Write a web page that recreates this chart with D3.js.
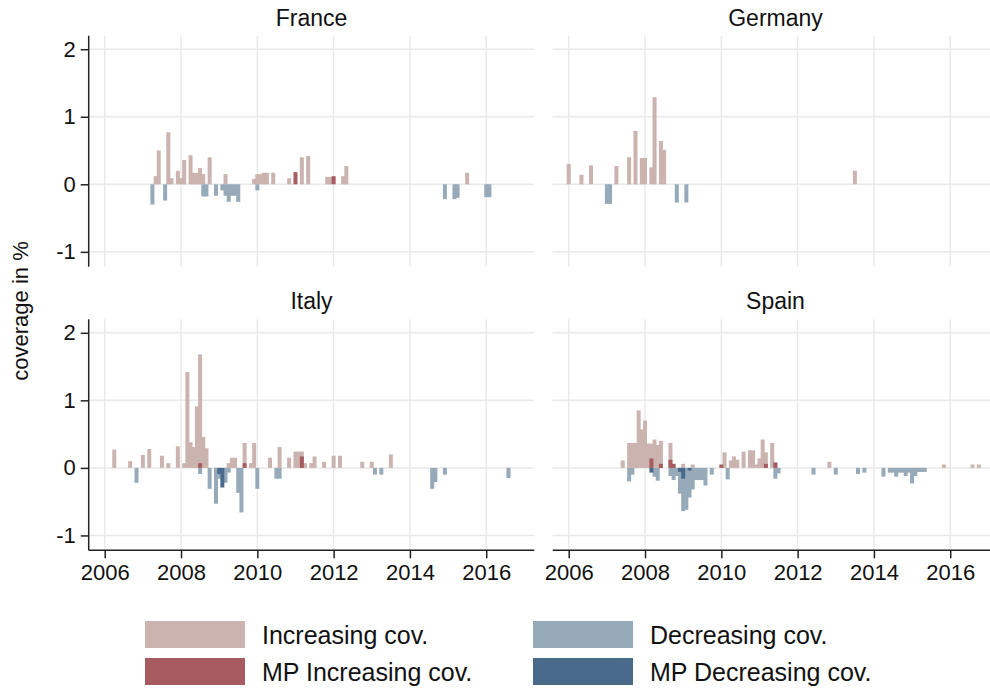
<!DOCTYPE html>
<html>
<head>
<meta charset="utf-8">
<script src="https://cdn.jsdelivr.net/npm/d3@7"></script>
<style>
  html, body { margin: 0; padding: 0; background: #fff; }
  svg { display: block; font-family: "Liberation Sans", Arial, Helvetica, sans-serif; }
</style>
</head>
<body>
<svg id="chart" width="990" height="693"></svg>
<script>
// Monthly changes in coverage (percentage points), by country.
const countries = ["France", "Germany", "Italy", "Spain"];

const franceInc = [["2007-05",0.12],["2007-06",0.50],["2007-09",0.77],["2007-10",0.09],["2007-12",0.20],
  ["2008-01",0.09],["2008-02",0.36],["2008-04",0.43],["2008-05",0.17],["2008-06",0.17],["2008-07",0.24],
  ["2008-08",0.15],["2008-10",0.40],["2009-03",0.15],["2009-12",0.08],["2010-01",0.15],["2010-02",0.15],
  ["2010-03",0.17],["2010-04",0.17],["2010-06",0.17],["2010-11",0.09],["2011-03",0.40],["2011-05",0.42],
  ["2011-11",0.11],["2011-12",0.11],["2012-04",0.12],["2012-05",0.27],["2015-07",0.17]];
const franceDec = [["2007-04",-0.30],["2007-08",-0.24],["2008-08",-0.18],["2008-09",-0.18],["2008-12",-0.17],
  ["2009-02",-0.09],["2009-03",-0.17],["2009-04",-0.26],["2009-05",-0.17],["2009-06",-0.17],["2009-07",-0.26],
  ["2010-01",-0.09],["2014-12",-0.22],["2015-03",-0.22],["2015-04",-0.20],["2016-01",-0.19],["2016-02",-0.19]];
const franceMpInc = [["2011-01",0.18],["2012-01",0.12]];
const franceMpDec = [];

const germanyInc = [["2006-01",0.30],["2006-05",0.14],["2006-08",0.28],["2007-04",0.27],["2007-08",0.40],
  ["2007-10",0.79],["2007-12",0.39],["2008-01",0.39],["2008-03",0.25],["2008-04",1.29],["2008-06",0.64],
  ["2008-07",0.51],["2013-07",0.20]];
const germanyDec = [["2007-01",-0.29],["2007-02",-0.29],["2008-11",-0.27],["2009-02",-0.27]];
const germanyMpInc = [];
const germanyMpDec = [];

const italyInc = [["2006-04",0.27],["2006-09",0.10],["2007-01",0.19],["2007-03",0.28],["2007-07",0.18],
  ["2007-09",0.07],["2007-12",0.32],["2008-02",0.07],["2008-03",1.42],["2008-04",0.38],["2008-05",0.31],
  ["2008-06",0.91],["2008-07",1.68],["2008-08",0.46],["2008-09",0.29],["2009-04",0.07],["2009-05",0.15],
  ["2009-06",0.15],["2009-09",0.37],["2009-11",0.07],["2009-12",0.37],["2010-05",0.15],["2010-08",0.31],
  ["2010-11",0.15],["2011-01",0.24],["2011-02",0.24],["2011-03",0.24],["2011-04",0.07],["2011-06",0.07],
  ["2011-07",0.17],["2011-10",0.09],["2012-01",0.18],["2012-03",0.18],["2012-10",0.09],["2013-01",0.09],
  ["2013-07",0.20]];
const italyDec = [["2006-11",-0.22],["2008-07",-0.09],["2008-10",-0.31],["2008-12",-0.53],["2009-01",-0.16],
  ["2009-03",-0.22],["2009-04",-0.07],["2009-07",-0.37],["2009-08",-0.66],["2010-01",-0.31],["2010-07",-0.16],
  ["2010-08",-0.16],["2013-02",-0.10],["2013-04",-0.10],["2014-08",-0.31],["2014-09",-0.21],["2014-12",-0.10],
  ["2016-08",-0.15]];
const italyMpInc = [["2008-07",0.07],["2009-09",0.07],["2011-03",0.17]];
const italyMpDec = [["2009-01",-0.09],["2009-02",-0.29]];

const spainInc = [["2007-06",0.11],["2007-08",0.37],["2007-09",0.37],["2007-10",0.37],["2007-11",0.85],
  ["2007-12",0.57],["2008-01",0.70],["2008-02",0.36],["2008-03",0.36],["2008-04",0.42],["2008-05",0.34],
  ["2008-06",0.40],["2008-09",0.37],["2009-01",0.06],["2009-04",0.05],["2010-02",0.23],["2010-04",0.11],
  ["2010-05",0.17],["2010-06",0.12],["2010-08",0.24],["2010-10",0.26],["2010-11",0.26],["2010-12",0.05],
  ["2011-01",0.14],["2011-02",0.42],["2011-03",0.23],["2011-05",0.37],["2011-06",0.08],["2012-11",0.09],
  ["2015-11",0.05],["2016-08",0.05],["2016-10",0.05]];
const spainDec = [["2007-08",-0.20],["2007-09",-0.10],["2008-04",-0.13],["2008-05",-0.19],["2008-09",-0.12],
  ["2008-10",-0.18],["2008-11",-0.12],["2008-12",-0.38],["2009-01",-0.64],["2009-02",-0.62],["2009-03",-0.44],
  ["2009-04",-0.32],["2009-05",-0.18],["2009-06",-0.18],["2009-07",-0.18],["2009-08",-0.26],["2009-10",-0.10],
  ["2010-03",-0.17],["2011-06",-0.16],["2011-07",-0.08],["2012-06",-0.10],["2013-01",-0.10],["2013-08",-0.09],
  ["2013-10",-0.07],["2014-04",-0.13],["2014-06",-0.07],["2014-07",-0.07],["2014-08",-0.13],["2014-09",-0.07],
  ["2014-10",-0.07],["2014-11",-0.12],["2014-12",-0.07],["2015-01",-0.23],["2015-02",-0.12],["2015-03",-0.06],
  ["2015-04",-0.06],["2015-05",-0.06]];
const spainMpInc = [["2008-03",0.14],["2008-06",0.06],["2008-09",0.12],["2008-10",0.06],["2010-01",0.05],
  ["2011-03",0.06],["2011-06",0.08]];
const spainMpDec = [["2008-03",-0.07],["2008-12",-0.06],["2009-01",-0.16],["2009-03",-0.04]];

const xTicks = [2006, 2008, 2010, 2012, 2014, 2016];
const yTicks = [-1, 0, 1, 2];

const seriesNames = ["Increasing cov.", "Decreasing cov.", "MP Increasing cov.", "MP Decreasing cov."];
const seriesColors = ["#cbb3af", "#97aaba", "#a65b60", "#4a6a8c"];

const panelData = {
  France:  [franceInc, franceDec, franceMpInc, franceMpDec],
  Germany: [germanyInc, germanyDec, germanyMpInc, germanyMpDec],
  Italy:   [italyInc, italyDec, italyMpInc, italyMpDec],
  Spain:   [spainInc, spainDec, spainMpInc, spainMpDec]
};

// month string -> fractional year (Jan = whole year)
const toYear = s => { const [y, m] = s.split("-").map(Number); return y + (m - 1) / 12; };
// plain ASCII hyphen for negative tick labels
const plainNum = d => String(d);

const svg = d3.select("#chart");
const gridColor = "#e9e9e9";
const axisColor = "#222";

const colX = [[88.7, 534.3], [552.7, 998.3]];
const rowY = [[35.7, 266.7], [319.3, 550.3]];

countries.forEach((name, i) => {
  const col = i % 2, row = Math.floor(i / 2);
  const [x0, x1] = colX[col];
  const [y0, y1] = rowY[row];

  const x = d3.scaleLinear().domain([2005.58, 2017.26]).range([x0, x1]);
  const y = d3.scaleLinear().domain([-1.22, 2.2]).range([y1, y0]);
  const step = x(2006 + 1 / 12) - x(2006);
  const bw = step * 1.26;

  const g = svg.append("g");

  // grid
  g.selectAll("line.hgrid").data(yTicks).join("line")
    .attr("x1", x0).attr("x2", x1)
    .attr("y1", d => y(d)).attr("y2", d => y(d))
    .attr("stroke", gridColor).attr("stroke-width", 1.5);
  g.selectAll("line.vgrid").data(xTicks).join("line")
    .attr("x1", d => x(d)).attr("x2", d => x(d))
    .attr("y1", y0).attr("y2", y1)
    .attr("stroke", gridColor).attr("stroke-width", 1.5);

  // bars: plain changes first, MP changes on top
  panelData[name].forEach((series, s) => {
    g.append("g").selectAll("rect").data(series).join("rect")
      .attr("x", d => x(toYear(d[0])) - bw / 2)
      .attr("width", bw)
      .attr("y", d => Math.min(y(d[1]), y(0)))
      .attr("height", d => Math.abs(y(d[1]) - y(0)))
      .attr("fill", seriesColors[s]);
  });

  // panel title
  svg.append("text")
    .attr("x", (x0 + x1) / 2).attr("y", y0 - 10)
    .attr("text-anchor", "middle")
    .attr("font-size", 23).attr("fill", "#111")
    .text(name);

  // y axis on left column
  if (col === 0) {
    const ax = svg.append("g").attr("transform", `translate(${x0},0)`)
      .call(d3.axisLeft(y).tickValues(yTicks).tickSize(8).tickPadding(5).tickFormat(plainNum));
    ax.select(".domain").attr("stroke", axisColor).attr("stroke-width", 1.5)
      .attr("d", `M0,${y0}V${y1}`);
    ax.selectAll(".tick line").attr("stroke", axisColor).attr("stroke-width", 1.5);
    ax.selectAll(".tick text").attr("font-size", 22).attr("fill", "#111")
      .attr("font-family", "Liberation Sans, Arial, sans-serif");
  }
  // x axis on bottom row
  if (row === 1) {
    const ax = svg.append("g").attr("transform", `translate(0,${y1})`)
      .call(d3.axisBottom(x).tickValues(xTicks).tickSize(8).tickPadding(6).tickFormat(plainNum));
    ax.select(".domain").attr("stroke", axisColor).attr("stroke-width", 1.5)
      .attr("d", `M${x0},0H${x1}`);
    ax.selectAll(".tick line").attr("stroke", axisColor).attr("stroke-width", 1.5);
    ax.selectAll(".tick text").attr("font-size", 22).attr("fill", "#111")
      .attr("font-family", "Liberation Sans, Arial, sans-serif");
  }
});

// y axis title
svg.append("text")
  .attr("transform", "translate(28,311) rotate(-90)")
  .attr("text-anchor", "middle")
  .attr("font-size", 22).attr("fill", "#111")
  .text("coverage in %");

// legend
const legendPos = [[145, 621], [533, 621], [145, 658], [533, 658]];
seriesNames.forEach((label, s) => {
  const [lx, ly] = legendPos[s];
  svg.append("rect").attr("x", lx).attr("y", ly).attr("width", 100).attr("height", 27)
    .attr("fill", seriesColors[s]);
  svg.append("text").attr("x", lx + 117).attr("y", ly + 23)
    .attr("font-size", 25).attr("fill", "#111")
    .text(label);
});
</script>
</body>
</html>
